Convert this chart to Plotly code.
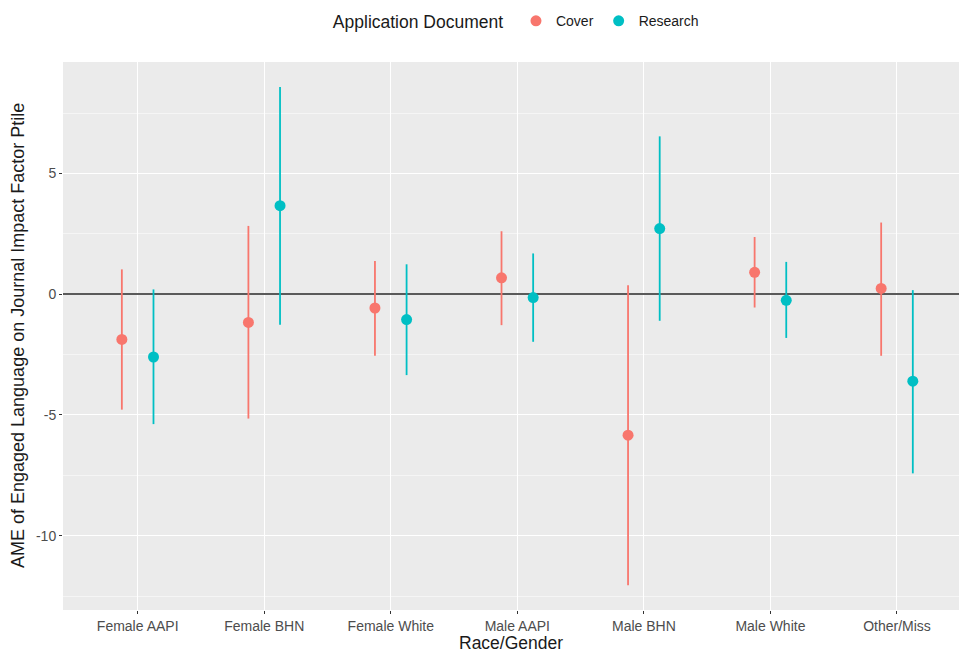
import plotly.graph_objects as go

categories = ["Female AAPI", "Female BHN", "Female White", "Male AAPI",
              "Male BHN", "Male White", "Other/Miss"]

cover_est = [-1.87, -1.17, -0.57, 0.68, -5.84, 0.91, 0.24]
cover_lo = [-4.78, -5.15, -2.55, -1.28, -12.05, -0.55, -2.55]
cover_hi = [1.03, 2.83, 1.38, 2.61, 0.37, 2.37, 2.97]

research_est = [-2.60, 3.67, -1.05, -0.14, 2.72, -0.25, -3.60]
research_lo = [-5.38, -1.26, -3.35, -1.97, -1.10, -1.81, -7.42]
research_hi = [0.20, 8.58, 1.24, 1.69, 6.54, 1.34, 0.17]

y_tickvals = [-10, -5, 0, 5]
y_ticktext = ["-10", "-5", "0", "5"]
y_minor = [-12.5, -7.5, -2.5, 2.5, 7.5]

dodge = 0.125
idx = list(range(len(categories)))

fig = go.Figure()

series = [
    ("Cover", "#F8766D", cover_est, cover_lo, cover_hi, -dodge),
    ("Research", "#00BFC4", research_est, research_lo, research_hi, dodge),
]
for name, color, est, lo, hi, off in series:
    fig.add_trace(go.Scatter(
        x=[i + off for i in idx], y=est, mode="markers", name=name,
        marker=dict(color=color, size=11),
        error_y=dict(type="data", symmetric=False,
                     array=[h - e for h, e in zip(hi, est)],
                     arrayminus=[e - l for e, l in zip(est, lo)],
                     color=color, thickness=1.8, width=0),
    ))

font_family = "Liberation Sans, Arial, sans-serif"
fig.update_layout(
    width=959, height=653,
    margin=dict(l=63, r=0, t=62, b=43),
    paper_bgcolor="white", plot_bgcolor="#EBEBEB",
    font=dict(family=font_family, color="#1A1A1A"),
    showlegend=True,
    legend=dict(
        orientation="h", xref="container", yref="container",
        x=0.345, xanchor="left", y=0.992, yanchor="top",
        title=dict(text="Application Document ", font=dict(size=17.5, color="#1A1A1A")),
        font=dict(size=14, color="#1A1A1A"),
        itemwidth=30,
    ),
    xaxis=dict(
        range=[-0.59, 6.49], tickmode="array", tickvals=idx, ticktext=categories,
        showgrid=True, gridcolor="white", gridwidth=1.2, zeroline=False,
        ticks="outside", ticklen=3, tickcolor="#333333",
        tickfont=dict(size=14, color="#4D4D4D"),
        automargin=False,
    ),
    yaxis=dict(
        range=[-13.08, 9.62], tickmode="array", tickvals=y_tickvals, ticktext=y_ticktext,
        showgrid=True, gridcolor="white", gridwidth=1.2,
        zeroline=True, zerolinecolor="#5A5A5A", zerolinewidth=1.8,
        ticks="outside", ticklen=3, tickcolor="#333333",
        tickfont=dict(size=14, color="#4D4D4D"),
        minor=dict(tickvals=y_minor, showgrid=True, gridcolor="#F5F5F5", gridwidth=0.6, ticks=""),
        automargin=False,
    ),
    annotations=[
        dict(text="Race/Gender", xref="paper", yref="paper", x=0.5, y=-0.061,
             xanchor="center", yanchor="middle", showarrow=False,
             font=dict(size=17.5, color="#1A1A1A")),
        dict(text="AME of Engaged Language on Journal Impact Factor Ptile",
             xref="paper", yref="paper", x=-0.0502, y=0.5, textangle=-90,
             xanchor="center", yanchor="middle", showarrow=False,
             font=dict(size=18, color="#1A1A1A")),
    ],
)

fig.write_html("out.html", config={"displayModeBar": False},
               post_script="document.body.style.margin='0';")
